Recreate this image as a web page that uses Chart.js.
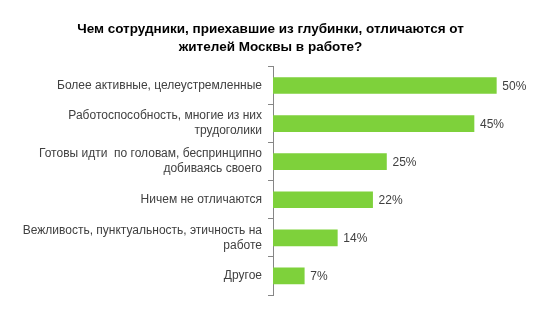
<!DOCTYPE html>
<html>
<head>
<meta charset="utf-8">
<script src="https://cdn.jsdelivr.net/npm/chart.js@4/dist/chart.umd.min.js"></script>
<style>
  html, body { margin: 0; padding: 0; background: #ffffff; }
  #wrap { width: 559px; height: 326px; position: relative; }
</style>
</head>
<body>
<div id="wrap"><canvas id="c"></canvas></div>
<script>
const titleLines = ["Чем сотрудники, приехавшие из глубинки, отличаются от", "жителей Москвы в работе?"];
const categories = [
  ["Более активные, целеустремленные"],
  ["Работоспособность, многие из них", "трудоголики"],
  ["Готовы идти  по головам, беспринципно", "добиваясь своего"],
  ["Ничем не отличаются"],
  ["Вежливость, пунктуальность, этичность на", "работе"],
  ["Другое"]
];
const values = [50, 45, 25.4, 22.3, 14.4, 7];

const FONT = "'Liberation Sans', Arial, sans-serif";

const valueLabels = {
  id: 'valueLabels',
  afterDatasetsDraw(chart) {
    const ctx = chart.ctx;
    const meta = chart.getDatasetMeta(0);
    ctx.save();
    ctx.font = "12px " + FONT;
    ctx.fillStyle = "#404040";
    ctx.textAlign = "left";
    ctx.textBaseline = "middle";
    meta.data.forEach((bar, i) => {
      ctx.fillText(Math.round(values[i]) + "%", bar.x + 6, bar.y + 1);
    });
    ctx.restore();
  }
};

new Chart(document.getElementById('c'), {
  type: 'bar',
  data: {
    labels: categories,
    datasets: [{
      data: values,
      backgroundColor: '#7ed13b',
      borderWidth: 0,
      barThickness: 16
    }]
  },
  options: {
    indexAxis: 'y',
    responsive: true,
    maintainAspectRatio: false,
    animation: false,
    layout: { padding: { left: 0, right: 18, top: 0, bottom: 31 } },
    plugins: {
      legend: { display: false },
      tooltip: { enabled: false },
      title: {
        display: true,
        text: titleLines,
        color: '#000000',
        font: { family: FONT, size: 13.5, weight: 'bold', lineHeight: 1.35 },
        padding: { top: 20, bottom: 10 }
      }
    },
    scales: {
      x: {
        display: false,
        min: 0,
        max: 60
      },
      y: {
        afterFit(scale) { scale.width = 273; },
        border: { display: true, color: '#868686', width: 1 },
        grid: {
          drawOnChartArea: false,
          drawTicks: true,
          tickLength: 5,
          color: '#868686'
        },
        ticks: {
          color: '#404040',
          padding: 6,
          font: { family: FONT, size: 12, lineHeight: 1.25 }
        }
      }
    }
  },
  plugins: [valueLabels]
});
</script>
</body>
</html>
